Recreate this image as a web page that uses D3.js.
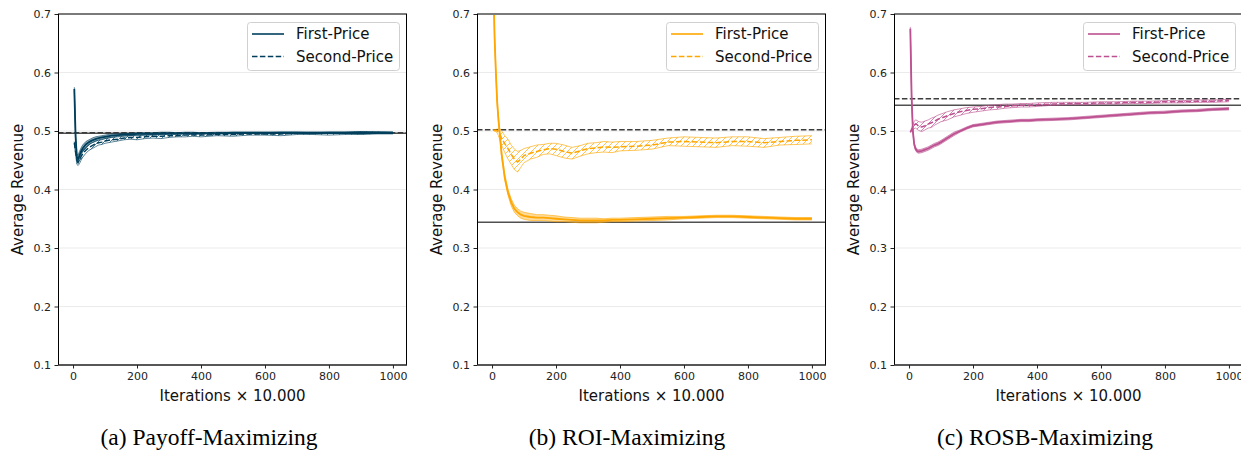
<!DOCTYPE html>
<html><head><meta charset="utf-8">
<script src="https://cdn.jsdelivr.net/npm/d3@7"></script>
<style>
html,body{margin:0;padding:0;background:#fff;}
svg{display:block;}
.tick text{font-family:"DejaVu Sans",sans-serif;font-size:11px;fill:#222;}
</style></head>
<body>
<svg id="chart" width="1241" height="454"></svg>
<script>
// ---------- DATA ----------
const iterations = [4,8,12,16,20,25,30,40,50,60,70,80,90,100,120,140,160,180,200,225,250,275,300,325,350,375,400,450,500,550,600,650,700,750,800,850,900,950,1000];

const xTicks = [0,200,400,600,800,1000];
const yTicks = [0.1,0.2,0.3,0.4,0.5,0.6,0.7];
const seriesNames = ["First-Price","Second-Price"];
const panelTitles = ["(a) Payoff-Maximizing","(b) ROI-Maximizing","(c) ROSB-Maximizing"];
const panelColors = ["#003f5c","#ffa600","#bc5090"];

// Panel (a) Payoff-Maximizing
const payoffFirstMean = [0.572,0.490,0.455,0.452,0.458,0.465,0.470,0.477,0.481,0.484,0.486,0.488,0.489,0.490,0.492,0.493,0.494,0.494,0.495,0.495,0.495,0.496,0.496,0.496,0.496,0.496,0.496,0.496,0.497,0.497,0.497,0.497,0.497,0.497,0.497,0.497,0.497,0.497,0.497];
const payoffFirstLo   = [0.568,0.484,0.448,0.444,0.451,0.459,0.464,0.472,0.477,0.480,0.482,0.485,0.486,0.487,0.489,0.491,0.492,0.492,0.493,0.493,0.493,0.494,0.494,0.494,0.495,0.494,0.495,0.495,0.495,0.496,0.495,0.496,0.496,0.495,0.496,0.496,0.495,0.496,0.496];
const payoffFirstHi   = [0.575,0.496,0.461,0.459,0.465,0.471,0.476,0.482,0.485,0.488,0.490,0.491,0.492,0.493,0.495,0.495,0.496,0.496,0.497,0.497,0.497,0.498,0.498,0.497,0.498,0.498,0.497,0.498,0.498,0.498,0.498,0.498,0.498,0.498,0.498,0.498,0.499,0.498,0.498];
const payoffSecondMean = [0.480,0.465,0.450,0.447,0.450,0.456,0.461,0.467,0.472,0.475,0.478,0.480,0.481,0.483,0.485,0.486,0.488,0.489,0.489,0.490,0.491,0.491,0.492,0.492,0.493,0.493,0.493,0.494,0.494,0.495,0.495,0.495,0.496,0.496,0.496,0.496,0.496,0.497,0.497];
const payoffSecondLo   = [0.478,0.459,0.443,0.441,0.444,0.450,0.455,0.462,0.467,0.470,0.473,0.476,0.477,0.479,0.481,0.483,0.485,0.486,0.485,0.487,0.488,0.487,0.489,0.490,0.490,0.491,0.490,0.492,0.491,0.493,0.493,0.492,0.494,0.494,0.493,0.494,0.494,0.495,0.495];
const payoffSecondHi   = [0.482,0.470,0.456,0.453,0.456,0.462,0.467,0.472,0.477,0.480,0.483,0.484,0.485,0.487,0.489,0.490,0.491,0.492,0.492,0.493,0.494,0.494,0.495,0.495,0.496,0.495,0.496,0.496,0.497,0.497,0.497,0.498,0.498,0.497,0.498,0.498,0.499,0.499,0.498];

// Panel (b) ROI-Maximizing
const roiFirstMean = [0.760,0.660,0.600,0.550,0.520,0.490,0.460,0.420,0.395,0.378,0.367,0.361,0.357,0.355,0.353,0.352,0.352,0.351,0.350,0.349,0.348,0.347,0.347,0.347,0.347,0.348,0.348,0.349,0.350,0.351,0.352,0.353,0.354,0.354,0.353,0.352,0.351,0.350,0.350];
const roiFirstLo   = [0.755,0.654,0.594,0.545,0.515,0.485,0.455,0.415,0.390,0.372,0.361,0.355,0.351,0.349,0.347,0.347,0.347,0.346,0.345,0.345,0.344,0.343,0.343,0.343,0.344,0.345,0.345,0.346,0.347,0.348,0.350,0.351,0.352,0.352,0.351,0.350,0.349,0.348,0.348];
const roiFirstHi   = [0.765,0.666,0.606,0.555,0.525,0.495,0.465,0.425,0.400,0.384,0.373,0.367,0.363,0.361,0.359,0.357,0.357,0.356,0.355,0.353,0.352,0.351,0.351,0.351,0.350,0.351,0.351,0.352,0.353,0.354,0.354,0.355,0.356,0.356,0.355,0.354,0.353,0.352,0.352];
const roiSecondMean = [0.502,0.501,0.501,0.500,0.498,0.494,0.488,0.478,0.470,0.460,0.452,0.447,0.452,0.458,0.462,0.465,0.468,0.470,0.469,0.465,0.462,0.466,0.470,0.471,0.473,0.472,0.473,0.474,0.476,0.481,0.482,0.481,0.480,0.482,0.482,0.480,0.482,0.484,0.485];
const roiSecondLo   = [0.501,0.500,0.499,0.497,0.492,0.484,0.476,0.463,0.452,0.443,0.434,0.430,0.438,0.446,0.452,0.455,0.460,0.461,0.458,0.454,0.452,0.457,0.461,0.463,0.464,0.463,0.466,0.467,0.469,0.475,0.474,0.473,0.472,0.475,0.474,0.472,0.476,0.477,0.478];
const roiSecondHi   = [0.503,0.502,0.503,0.503,0.504,0.504,0.500,0.492,0.486,0.476,0.469,0.465,0.467,0.470,0.473,0.476,0.477,0.479,0.479,0.476,0.472,0.475,0.479,0.480,0.482,0.481,0.482,0.482,0.484,0.488,0.490,0.489,0.488,0.490,0.490,0.487,0.489,0.491,0.492];

// Panel (c) ROSB-Maximizing
const rosbFirstMean = [0.675,0.560,0.500,0.478,0.470,0.466,0.465,0.466,0.468,0.470,0.473,0.476,0.478,0.481,0.488,0.495,0.500,0.505,0.509,0.511,0.513,0.515,0.516,0.517,0.518,0.518,0.519,0.520,0.521,0.523,0.525,0.527,0.529,0.531,0.532,0.534,0.535,0.537,0.538];
const rosbFirstLo   = [0.672,0.556,0.497,0.475,0.467,0.463,0.462,0.463,0.465,0.467,0.470,0.473,0.475,0.478,0.485,0.492,0.498,0.503,0.507,0.509,0.511,0.513,0.514,0.515,0.516,0.516,0.517,0.518,0.519,0.521,0.523,0.525,0.527,0.529,0.530,0.532,0.533,0.535,0.536];
const rosbFirstHi   = [0.678,0.564,0.503,0.481,0.473,0.469,0.468,0.469,0.471,0.473,0.476,0.479,0.481,0.484,0.491,0.498,0.502,0.507,0.511,0.513,0.515,0.517,0.518,0.519,0.520,0.520,0.521,0.522,0.523,0.525,0.527,0.529,0.531,0.533,0.534,0.536,0.537,0.539,0.540];
const rosbSecondMean = [0.498,0.502,0.506,0.510,0.512,0.511,0.508,0.507,0.509,0.512,0.514,0.517,0.520,0.522,0.526,0.530,0.533,0.535,0.537,0.538,0.540,0.541,0.542,0.543,0.544,0.544,0.545,0.546,0.547,0.547,0.548,0.548,0.549,0.549,0.550,0.550,0.551,0.551,0.552];
const rosbSecondLo   = [0.497,0.499,0.501,0.504,0.505,0.503,0.501,0.499,0.502,0.505,0.506,0.510,0.513,0.516,0.519,0.524,0.527,0.530,0.532,0.534,0.536,0.537,0.539,0.540,0.541,0.541,0.542,0.544,0.545,0.545,0.546,0.546,0.547,0.547,0.548,0.548,0.549,0.549,0.550];
const rosbSecondHi   = [0.499,0.505,0.511,0.516,0.519,0.518,0.516,0.515,0.517,0.519,0.522,0.524,0.527,0.529,0.533,0.536,0.538,0.540,0.541,0.542,0.544,0.545,0.546,0.546,0.547,0.547,0.548,0.549,0.549,0.549,0.550,0.550,0.551,0.551,0.552,0.552,0.553,0.553,0.554];

// Reference (equilibrium) revenue levels per panel
const refSecondPrice = [0.497, 0.502, 0.555];
const refFirstPrice  = [0.496, 0.344, 0.544];

// ---------- LAYOUT ----------
const panels = [
  {first:[payoffFirstMean,payoffFirstLo,payoffFirstHi], second:[payoffSecondMean,payoffSecondLo,payoffSecondHi]},
  {first:[roiFirstMean,roiFirstLo,roiFirstHi], second:[roiSecondMean,roiSecondLo,roiSecondHi]},
  {first:[rosbFirstMean,rosbFirstLo,rosbFirstHi], second:[rosbSecondMean,rosbSecondLo,rosbSecondHi]}
];
const panelLefts = [58, 477, 894];
const captionCenters = [209, 627, 1045];
const PW = 349, PTOP = 14, PH = 351;

const svg = d3.select("#chart");
const defs = svg.append("defs");

panels.forEach((p, i) => {
  const color = panelColors[i];
  const left = panelLefts[i];
  const x = d3.scaleLinear().domain([-47, 1044]).range([0, PW]);
  const y = d3.scaleLinear().domain([0.1, 0.7]).range([PH, 0]);
  const g = svg.append("g").attr("transform", `translate(${left},${PTOP})`);

  defs.append("clipPath").attr("id", "clip" + i)
    .append("rect").attr("x", 0).attr("y", 0).attr("width", PW).attr("height", PH);
  const pat = defs.append("pattern").attr("id", "hatch" + i)
    .attr("patternUnits", "userSpaceOnUse").attr("width", 6).attr("height", 6);
  pat.append("path").attr("d", "M-1,7 L7,-1 M-4,4 L4,-4 M2,10 L10,2")
    .attr("stroke", color).attr("stroke-width", 0.9).attr("stroke-opacity", 0.75).attr("fill", "none");

  // grid
  g.append("g").selectAll("line").data(yTicks).join("line")
    .attr("x1", 0).attr("x2", PW).attr("y1", d => y(d)).attr("y2", d => y(d))
    .attr("stroke", "#ebebeb").attr("stroke-width", 1.1);

  const plot = g.append("g").attr("clip-path", `url(#clip${i})`);

  // reference lines
  plot.append("line").attr("x1", 0).attr("x2", PW)
    .attr("y1", y(refFirstPrice[i])).attr("y2", y(refFirstPrice[i]))
    .attr("stroke", "#505050").attr("stroke-width", 1.5);
  plot.append("line").attr("x1", 0).attr("x2", PW)
    .attr("y1", y(refSecondPrice[i])).attr("y2", y(refSecondPrice[i]))
    .attr("stroke", "#3c3c3c").attr("stroke-width", 1.5).attr("stroke-dasharray", "5.5,2.4");

  const area = (lo, hi) => d3.area().x((d, k) => x(iterations[k])).y0((d, k) => y(lo[k])).y1((d, k) => y(hi[k]));
  const line = arr => d3.line().x((d, k) => x(iterations[k])).y((d, k) => y(arr[k]));

  // second-price hatched band
  const [sm, sl, sh] = p.second;
  plot.append("path").attr("d", area(sl, sh)(iterations))
    .attr("fill", `url(#hatch${i})`).attr("stroke", "none");
  [sl, sh].forEach(arr => plot.append("path").attr("d", line(arr)(iterations))
    .attr("fill", "none").attr("stroke", color).attr("stroke-opacity", 0.7).attr("stroke-width", 0.9));
  // first-price filled band
  const [fm, fl, fh] = p.first;
  plot.append("path").attr("d", area(fl, fh)(iterations))
    .attr("fill", color).attr("fill-opacity", 0.4).attr("stroke", "none");
  [fl, fh].forEach(arr => plot.append("path").attr("d", line(arr)(iterations))
    .attr("fill", "none").attr("stroke", color).attr("stroke-opacity", 0.65).attr("stroke-width", 0.9));
  // mean lines
  plot.append("path").attr("d", line(sm)(iterations))
    .attr("fill", "none").attr("stroke", color).attr("stroke-width", 1.5).attr("stroke-dasharray", "5.5,2.4");
  plot.append("path").attr("d", line(fm)(iterations))
    .attr("fill", "none").attr("stroke", color).attr("stroke-width", 1.8);

  // axes
  const xa = g.append("g").attr("transform", `translate(0,${PH})`)
    .call(d3.axisBottom(x).tickValues(xTicks).tickFormat(d3.format("d")).tickSize(3.5).tickPadding(3.5).tickSizeOuter(0));
  xa.select(".domain").remove();
  xa.selectAll(".tick line").attr("stroke", "#222");
  const ya = g.append("g")
    .call(d3.axisLeft(y).tickValues(yTicks).tickFormat(d3.format(".1f")).tickSize(3.5).tickPadding(3.5).tickSizeOuter(0));
  ya.select(".domain").remove();
  ya.selectAll(".tick line").attr("stroke", "#222");

  // spines
  g.append("line").attr("x1", 0).attr("x2", PW).attr("y1", 0).attr("y2", 0).attr("stroke", "#7a7a7a").attr("stroke-width", 1.8);
  g.append("line").attr("x1", 0.5).attr("x2", 0.5).attr("y1", 0).attr("y2", PH).attr("stroke", "#000").attr("stroke-width", 1);
  g.append("line").attr("x1", PW - 0.5).attr("x2", PW - 0.5).attr("y1", 0).attr("y2", PH).attr("stroke", "#000").attr("stroke-width", 1);
  g.append("line").attr("x1", 0).attr("x2", PW).attr("y1", PH).attr("y2", PH).attr("stroke", "#222").attr("stroke-width", 1.4);

  // axis labels
  g.append("text").attr("x", PW / 2).attr("y", 387)
    .attr("text-anchor", "middle").attr("font-family", "DejaVu Sans, sans-serif").attr("font-size", 15).attr("fill", "#111")
    .text("Iterations \u00d7 10.000");
  g.append("text").attr("transform", `translate(${-35},${PH / 2}) rotate(-90)`)
    .attr("text-anchor", "middle").attr("font-family", "DejaVu Sans, sans-serif").attr("font-size", 15).attr("fill", "#111")
    .text("Average Revenue");

  // legend
  const lg = g.append("g").attr("transform", `translate(189,8)`);
  lg.append("rect").attr("x", 0.5).attr("y", 0.5).attr("width", 152).attr("height", 48).attr("rx", 3)
    .attr("fill", "#fff").attr("fill-opacity", 0.85).attr("stroke", "#d0d0d0").attr("stroke-width", 1);
  seriesNames.forEach((name, k) => {
    const ly = 12 + k * 22.5;
    lg.append("line").attr("x1", 5).attr("x2", 37).attr("y1", ly).attr("y2", ly)
      .attr("stroke", color).attr("stroke-width", 1.6).attr("stroke-dasharray", k ? "5.5,2.4" : null);
    lg.append("text").attr("x", 49).attr("y", ly).attr("dy", "0.35em")
      .attr("font-family", "DejaVu Sans, sans-serif").attr("font-size", 15).attr("fill", "#111").text(name);
  });

  // caption
  svg.append("text").attr("x", captionCenters[i]).attr("y", 445)
    .attr("text-anchor", "middle").attr("font-family", "'Liberation Serif', 'Times New Roman', serif").attr("font-size", 23.5).attr("fill", "#000")
    .text(panelTitles[i]);
});
</script>
</body></html>
